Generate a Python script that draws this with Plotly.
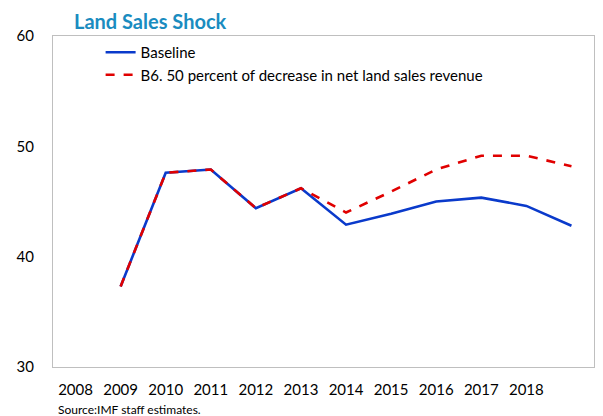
import plotly.graph_objects as go

years = [2008, 2009, 2010, 2011, 2012, 2013, 2014, 2015, 2016, 2017, 2018, 2019]
baseline = [None, 37.3, 47.6, 47.9, 44.4, 46.2, 42.9, 43.9, 45.0, 45.35, 44.6, 42.8]
shock = [None, 37.3, 47.6, 47.9, 44.4, 46.2, 44.0, 45.9, 47.9, 49.15, 49.15, 48.2]
tick_years = [2008, 2009, 2010, 2011, 2012, 2013, 2014, 2015, 2016, 2017, 2018]
y_ticks = [30, 40, 50, 60]

font_family = "Lato, 'Open Sans', sans-serif"

# page has 8px body margin; figure is sized to fit the 603x416 window
W, H = 595, 408
L, R, T, B = 40, 8, 28, 49

fig = go.Figure()
fig.add_trace(go.Scatter(
    x=years, y=baseline, mode="lines", name="Baseline",
    line=dict(color="#0a3acb", width=2.6),
))
fig.add_trace(go.Scatter(
    x=years, y=shock, mode="lines",
    name="B6. 50 percent of decrease in net land sales revenue",
    line=dict(color="#e00000", width=2.6, dash="dash"),
))

pw = W - L - R
ph = H - T - B

fig.update_layout(
    width=W, height=H,
    margin=dict(l=L, r=R, t=T, b=B),
    paper_bgcolor="white", plot_bgcolor="white",
    font=dict(family=font_family, size=14, color="#000000"),
    showlegend=True,
    legend=dict(x=0.088, y=1.0, xanchor="left", yanchor="top",
                bgcolor="rgba(0,0,0,0)", font=dict(size=15),
                tracegroupgap=0, itemwidth=30),
    xaxis=dict(
        range=[2007.5, 2019.5], tickmode="array", tickvals=tick_years,
        ticktext=[str(t) for t in tick_years], showgrid=False,
        showline=True, linecolor="#bfbfbf", linewidth=1.3, mirror=True,
        ticks="outside", ticklen=9, tickcolor="rgba(0,0,0,0)",
        tickfont=dict(size=15), zeroline=False,
    ),
    yaxis=dict(
        range=[30, 60], tickmode="array", tickvals=y_ticks, showgrid=False,
        showline=True, linecolor="#bfbfbf", linewidth=1.3, mirror=True,
        ticks="outside", ticklen=15, tickcolor="rgba(0,0,0,0)",
        tickfont=dict(size=15), zeroline=False,
    ),
    annotations=[
        dict(text="<b>Land Sales Shock</b>", xref="paper", yref="paper",
             x=(60 - L) / pw, y=1 + T / ph, xanchor="left", yanchor="top",
             borderpad=0, showarrow=False, font=dict(size=20, color="#1a8cc0")),
        dict(text="Source:IMF staff estimates.", xref="paper", yref="paper",
             x=(44 - L) / pw, y=-(401 - (H - B)) / ph, xanchor="left", yanchor="middle",
             borderpad=0, showarrow=False, font=dict(size=12)),
    ],
)

fig.write_html("out.html")
